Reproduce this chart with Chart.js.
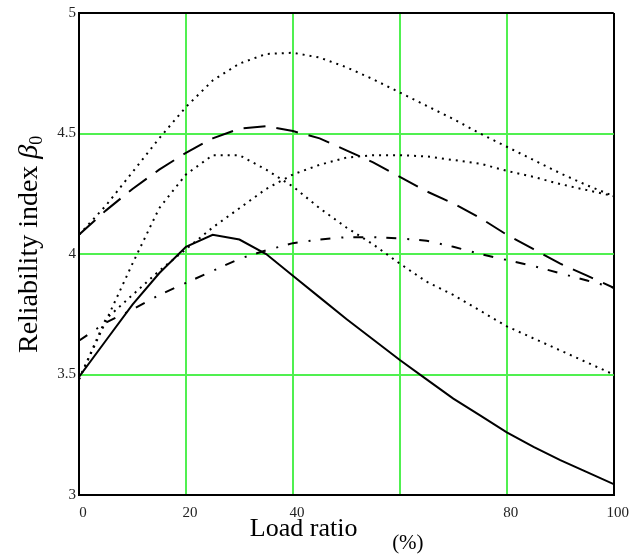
<!DOCTYPE html>
<html>
<head>
<meta charset="utf-8">
<title>Reliability index vs load ratio</title>
<script src="https://cdn.jsdelivr.net/npm/chart.js@4/dist/chart.umd.min.js"></script>
<style>
    body { margin: 0; background: #fff; }
    #wrap { width: 634px; height: 556px; }
</style>
</head>
<body>
<div id="wrap"><canvas id="reliabilityChart" width="634" height="556"></canvas></div>
<script>
// Load ratio (%) sampled along the x axis
const loadRatio = [0, 5, 10, 15, 20, 25, 30, 35, 40, 45, 50, 55, 60, 65, 70, 75, 80, 85, 90, 95, 100];

// Reliability index curves
const curveSolid     = [3.49, 3.64, 3.79, 3.92, 4.03, 4.08, 4.06, 4.00, 3.91, 3.82, 3.73, 3.645, 3.56, 3.48, 3.40, 3.33, 3.26, 3.20, 3.145, 3.095, 3.045];
const curveLongDash  = [4.08, 4.18, 4.27, 4.35, 4.42, 4.48, 4.52, 4.53, 4.51, 4.48, 4.43, 4.38, 4.32, 4.26, 4.21, 4.15, 4.08, 4.02, 3.96, 3.91, 3.86];
const curveDashDot   = [3.64, 3.715, 3.77, 3.83, 3.88, 3.93, 3.98, 4.015, 4.045, 4.06, 4.07, 4.07, 4.065, 4.055, 4.03, 4.00, 3.975, 3.95, 3.92, 3.89, 3.86];
const curveDotTop    = [4.08, 4.20, 4.34, 4.48, 4.61, 4.72, 4.79, 4.83, 4.835, 4.815, 4.775, 4.725, 4.67, 4.615, 4.56, 4.50, 4.445, 4.39, 4.335, 4.285, 4.24];
const curveDotPeak   = [3.48, 3.72, 3.96, 4.19, 4.33, 4.41, 4.41, 4.35, 4.28, 4.19, 4.11, 4.04, 3.96, 3.885, 3.83, 3.765, 3.70, 3.65, 3.60, 3.55, 3.50];
const curveDotBroad  = [3.48, 3.73, 3.83, 3.93, 4.02, 4.11, 4.19, 4.27, 4.33, 4.37, 4.40, 4.41, 4.41, 4.405, 4.39, 4.375, 4.345, 4.32, 4.29, 4.265, 4.24];

// Tick labels (60 is not labelled in the original)
const xTickValues = [0, 20, 40, 60, 80, 100];
const xTickLabels = ['0', '20', '40', '', '80', '100'];
const yTickValues = [3, 3.5, 4, 4.5, 5];
const yTickLabels = ['3', '3.5', '4', '4.5', '5'];

const SERIF = '"Liberation Serif", "Times New Roman", serif';
const GRID_GREEN = 'rgb(80, 240, 80)';

document.addEventListener('DOMContentLoaded', function() {
    initChart();
});

function toPoints(values) {
    return loadRatio.map((x, i) => ({ x: x, y: values[i] }));
}

function lineSet(values, dash) {
    return {
        data: toPoints(values),
        borderColor: '#000',
        borderWidth: 2,
        borderDash: dash,
        pointRadius: 0,
        tension: 0,
        fill: false
    };
}

// outer ticks get the black frame, inner ones the green grid
function gridColors(values) {
    return values.map((v, i) => (i === 0 || i === values.length - 1) ? '#000' : GRID_GREEN);
}
function gridWidths(values) {
    return values.map(() => 2);
}

// draws axis titles (x title is off-centre in the original, y title has italic beta)
const axisTitles = {
    id: 'axisTitles',
    afterDraw(chart) {
        const ctx = chart.ctx;
        const x = chart.scales.x;
        const y = chart.scales.y;
        ctx.save();
        ctx.fillStyle = '#000';
        ctx.textBaseline = 'alphabetic';
        ctx.textAlign = 'center';
        ctx.font = '26px ' + SERIF;
        ctx.fillText('Load ratio', x.getPixelForValue(42), 536);
        ctx.font = '21px ' + SERIF;
        ctx.fillText('(%)', x.getPixelForValue(61.5), 549);

        ctx.translate(37, y.getPixelForValue(4.04));
        ctx.rotate(-Math.PI / 2);
        ctx.textAlign = 'left';
        const main = 'Reliability index ';
        ctx.font = '28px ' + SERIF;
        const w1 = ctx.measureText(main).width;
        ctx.font = 'italic 28px ' + SERIF;
        const w2 = ctx.measureText('β').width;
        ctx.font = '18px ' + SERIF;
        const w3 = ctx.measureText('0').width;
        let pos = -(w1 + w2 + w3) / 2;
        ctx.font = '28px ' + SERIF;
        ctx.fillText(main, pos, 0);
        pos += w1;
        ctx.font = 'italic 28px ' + SERIF;
        ctx.fillText('β', pos, 0);
        pos += w2;
        ctx.font = '18px ' + SERIF;
        ctx.fillText('0', pos, 5);
        ctx.restore();
    }
};

function initChart() {
    const ctx = document.getElementById('reliabilityChart').getContext('2d');
    new Chart(ctx, {
        type: 'line',
        data: {
            datasets: [
                lineSet(curveSolid, []),
                lineSet(curveLongDash, [22, 11]),
                lineSet(curveDashDot, [10, 11, 2, 10]),
                lineSet(curveDotTop, [2, 5]),
                lineSet(curveDotPeak, [2, 5]),
                lineSet(curveDotBroad, [2, 5])
            ]
        },
        options: {
            responsive: false,
            animation: false,
            layout: { padding: { left: 0, right: 19, top: 13, bottom: 0 } },
            plugins: {
                legend: { display: false },
                tooltip: { enabled: false }
            },
            scales: {
                x: {
                    type: 'linear',
                    min: 0,
                    max: 100,
                    afterBuildTicks: function(scale) {
                        scale.ticks = xTickValues.map(v => ({ value: v }));
                    },
                    afterFit: function(scale) { scale.height = 61; },
                    ticks: {
                        callback: function(value) {
                            const i = xTickValues.indexOf(value);
                            return i >= 0 ? xTickLabels[i] : '';
                        },
                        maxRotation: 0,
                        autoSkip: false,
                        padding: 9,
                        labelOffset: 4,
                        color: '#222',
                        font: { family: SERIF, size: 15 }
                    },
                    grid: {
                        drawTicks: false,
                        color: gridColors(xTickValues),
                        lineWidth: gridWidths(xTickValues)
                    },
                    border: { display: true, color: '#000', width: 2 }
                },
                y: {
                    type: 'linear',
                    min: 3,
                    max: 5,
                    afterBuildTicks: function(scale) {
                        scale.ticks = yTickValues.map(v => ({ value: v }));
                    },
                    afterFit: function(scale) { scale.width = 79; },
                    ticks: {
                        callback: function(value) {
                            const i = yTickValues.indexOf(value);
                            return i >= 0 ? yTickLabels[i] : '';
                        },
                        padding: 3,
                        color: '#222',
                        font: { family: SERIF, size: 15 }
                    },
                    grid: {
                        drawTicks: false,
                        color: gridColors(yTickValues),
                        lineWidth: gridWidths(yTickValues)
                    },
                    border: { display: true, color: '#000', width: 2 }
                }
            }
        },
        plugins: [axisTitles]
    });
}
</script>
</body>
</html>
